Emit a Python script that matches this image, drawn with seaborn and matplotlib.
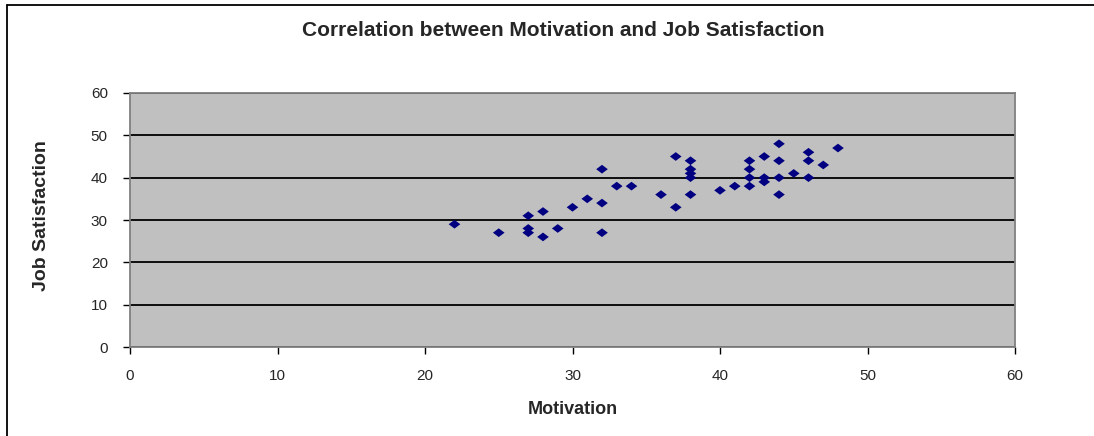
import seaborn as sns
import pandas as pd
from matplotlib import pyplot as plt
from matplotlib.lines import Line2D

# values
motivation = [22, 25, 27, 27, 27, 28, 28, 29, 30, 31, 32, 32, 32, 33, 34, 36, 37, 37,
              38, 38, 38, 38, 38, 40, 41, 42, 42, 42, 42, 43, 43, 43, 44, 44, 44, 44,
              45, 46, 46, 46, 47, 48]
job_satisfaction = [29, 27, 31, 28, 27, 32, 26, 28, 33, 35, 34, 27, 42, 38, 38, 36, 45, 33,
                    44, 42, 41, 40, 36, 37, 38, 44, 42, 40, 38, 45, 40, 39, 48, 44, 40, 36,
                    41, 46, 44, 40, 43, 47]
ticks = [0, 10, 20, 30, 40, 50, 60]

df = pd.DataFrame({'Motivation': motivation, 'Job Satisfaction': job_satisfaction})

sns.set_style('white')
plt.rcParams['font.family'] = ['Liberation Sans', 'DejaVu Sans']

fig = plt.figure(figsize=(10.94, 4.36), dpi=100)
ax = fig.add_axes([130 / 1094, 89 / 436, 885 / 1094, 254 / 436])
ax.set_facecolor('#c0c0c0')

diamond = [(-1, 0), (0, 0.75), (1, 0), (0, -0.75), (-1, 0)]
sns.scatterplot(x='Motivation', y='Job Satisfaction', data=df, ax=ax,
                marker=diamond, s=70, color='#000080', edgecolor='none', zorder=3)

ax.set(xlim=(0, 60), ylim=(0, 60))
ax.set_xticks(ticks)
ax.set_yticks(ticks)
ax.yaxis.grid(True, color='black', linewidth=1.3)
ax.set_axisbelow(True)
for side in ['left', 'bottom', 'top', 'right']:
    ax.spines[side].set_color('#808080')
    ax.spines[side].set_linewidth(1.3)
ax.tick_params(axis='both', which='major', direction='out', length=5, width=1,
               color='black', labelsize=11, pad=11, bottom=True, left=True)

ax.set_xlabel('Motivation', fontsize=13, fontweight='bold', labelpad=13)
ax.set_ylabel('')

# y label sits outside the normal axes label position in the reference
fig.text(42 / 1094, 1 - 216 / 436, 'Job Satisfaction', rotation=90,
         fontsize=14, fontweight='bold', ha='center', va='center')

fig.text(563 / 1094, 1 - 31 / 436, 'Correlation between Motivation and Job Satisfaction',
         fontsize=15, fontweight='bold', ha='center', va='center')

# chart border, partly visible in the reference
fig.add_artist(Line2D([7 / 1094, 7 / 1094], [0, 1 - 5 / 436], color='black', linewidth=1.3,
                      transform=fig.transFigure))
fig.add_artist(Line2D([7 / 1094, 1], [1 - 5 / 436, 1 - 5 / 436], color='black', linewidth=1.3,
                      transform=fig.transFigure))

fig.savefig('out.png', dpi=100)
